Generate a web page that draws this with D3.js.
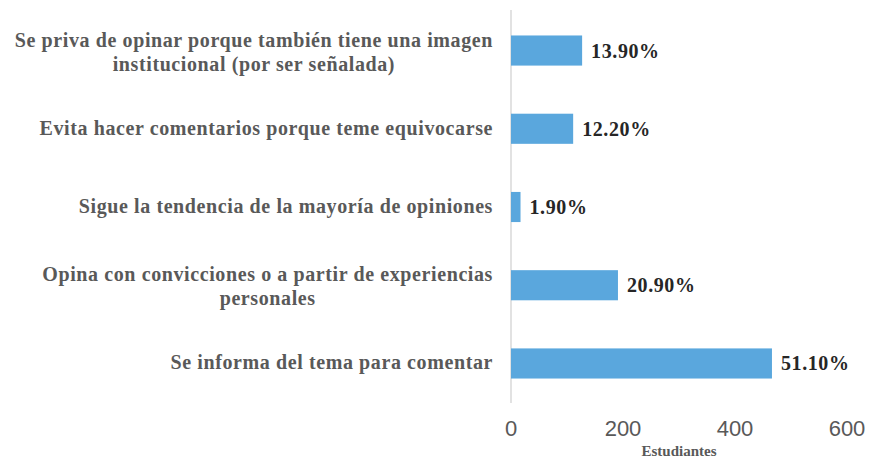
<!DOCTYPE html>
<html>
<head>
<meta charset="utf-8">
<script src="https://cdn.jsdelivr.net/npm/d3@7"></script>
<style>
 body { margin: 0; background: #fff; }
</style>
</head>
<body>
<div id="chart-area"></div>
<script>
// data (students per answer, and the printed share)
var categories = [
  ["Se priva de opinar porque también tiene una imagen", "institucional (por ser señalada)"],
  ["Evita hacer comentarios porque teme equivocarse"],
  ["Sigue la tendencia de la mayoría de opiniones"],
  ["Opina con convicciones o a partir de experiencias", "personales"],
  ["Se informa del tema para comentar"]
];
var students = [127, 111, 17, 191, 466];
var shares = ["13.90%", "12.20%", "1.90%", "20.90%", "51.10%"];
var xTicks = [0, 200, 400, 600];

var margin = {top: 12, right: 23, bottom: 57, left: 511},
  width = 870 - margin.left - margin.right,
  height = 459 - margin.top - margin.bottom;

var svg = d3.select("#chart-area")
  .append("svg")
  .attr("width", 870)
  .attr("height", 459)
  .append("g")
  .attr("transform", `translate(${margin.left}, ${margin.top})`);

var x = d3.scaleLinear()
  .domain([0, 600])
  .range([0, 336]);

var y = d3.scaleBand()
  .domain(d3.range(categories.length))
  .range([0, height])
  .paddingInner(0.615)
  .paddingOuter(0.3);

var serif = "'Liberation Serif', 'Times New Roman', serif";

// vertical axis line
svg.append("line")
  .attr("x1", 0).attr("x2", 0)
  .attr("y1", -2).attr("y2", height + 1)
  .attr("stroke", "#d9d9d9")
  .attr("stroke-width", 1.5);

// bars
svg.selectAll("rect.bar")
  .data(students)
  .enter()
  .append("rect")
  .attr("class", "bar")
  .attr("x", 0)
  .attr("y", (d, i) => y(i))
  .attr("width", d => x(d))
  .attr("height", y.bandwidth())
  .attr("fill", "#5aa7dd");

// value labels
svg.selectAll("text.val")
  .data(students)
  .enter()
  .append("text")
  .attr("class", "val")
  .attr("x", d => x(d) + 9)
  .attr("y", (d, i) => y(i) + y.bandwidth() / 2)
  .attr("dy", "0.35em")
  .attr("font-family", serif)
  .attr("font-weight", "bold")
  .attr("font-size", "20px")
  .attr("letter-spacing", "0.6px")
  .attr("fill", "#262626")
  .text((d, i) => shares[i]);

// category labels, centred lines, block right-aligned to the axis
var labelG = svg.selectAll("g.cat")
  .data(categories)
  .enter()
  .append("g")
  .attr("class", "cat");

labelG.each(function(lines, i) {
  var g = d3.select(this);
  var t = g.append("text")
    .attr("font-family", serif)
    .attr("font-weight", "bold")
    .attr("font-size", "20px")
    .attr("letter-spacing", "0.6px")
    .attr("fill", "#595959")
    .attr("text-anchor", "middle");
  lines.forEach((l, k) => {
    t.append("tspan")
      .attr("x", 0)
      .attr("dy", k == 0 ? 0 : 24)
      .text(l);
  });
  var w = t.node().getBBox().width;
  var cy = y(i) + y.bandwidth() / 2 + 6 - (lines.length - 1) * 24 / 2 + (lines.length - 1) * 2;
  g.attr("transform", `translate(${-18 - w / 2}, ${cy})`);
});

// x axis tick labels
svg.selectAll("text.tick")
  .data(xTicks)
  .enter()
  .append("text")
  .attr("class", "tick")
  .attr("x", d => x(d))
  .attr("y", height + 34)
  .attr("text-anchor", "middle")
  .attr("font-family", "'Liberation Sans', Arial, sans-serif")
  .attr("font-size", "22px")
  .attr("fill", "#595959")
  .text(d => d);

svg.append("text")
  .attr("x", x(300))
  .attr("y", height + 54)
  .attr("text-anchor", "middle")
  .attr("font-family", serif)
  .attr("font-weight", "bold")
  .attr("font-size", "15px")
  .attr("fill", "#595959")
  .text("Estudiantes");
</script>
</body>
</html>
